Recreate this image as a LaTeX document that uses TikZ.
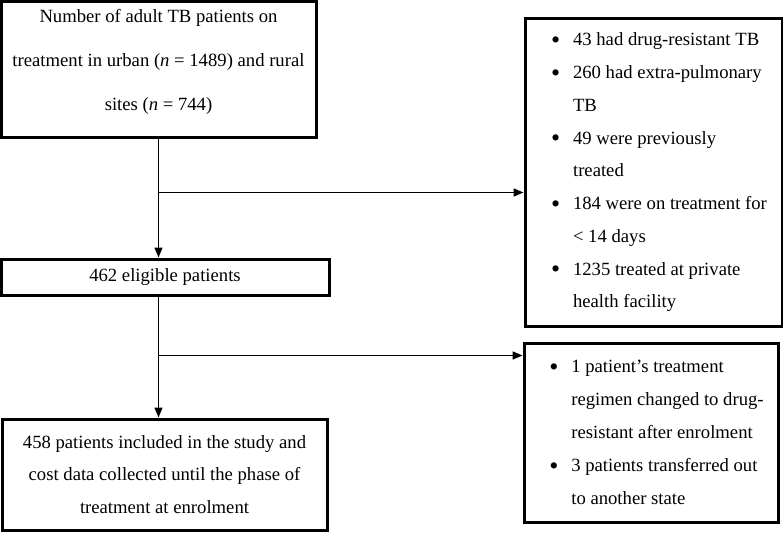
\documentclass[tikz,border=0pt]{standalone}
\usepackage{fontspec}
\setmainfont{Liberation Serif}
\usetikzlibrary{arrows.meta}
\newcommand\bul{\hspace*{11pt}\makebox[22pt][l]{\raisebox{-2.5pt}{\fontsize{26}{26}\selectfont\textbullet}}}
\newcommand\ind{\hspace*{33pt}}
\begin{document}
\begin{tikzpicture}[>={Triangle[length=10pt,width=8pt]},x=1pt,y=-1pt,
	box/.style={draw,line width=3pt,inner sep=0pt,align=center,font=\fontsize{18.67}{32.75}\selectfont},
	link/.style={line width=1.5pt}]
		\useasboundingbox (0,0) rectangle (783,532);
		\node[box,minimum width=315,minimum height=135,font=\fontsize{18.67}{44}\selectfont] (total) at (158.5,69.5)
			{Number of adult TB patients on\\treatment in urban (\textit{n} = 1489) and rural\\sites (\textit{n} = 744)\rule[-20pt]{0pt}{20pt}};
		\node[box,minimum width=328,minimum height=36] (eligible) at (165,277) {462 eligible patients};
		\node[box,minimum width=325,minimum height=111] (included) at (164.5,474.5)
			{458 patients included in the study and\\cost data collected until the phase of\\treatment at enrolment};
		\node[box,align=left,minimum width=257,minimum height=307] (excl1) at (653.5,172.5)
			{\bul 43 had drug-resistant TB\\\bul 260 had extra-pulmonary\\\ind TB\\\bul 49 were previously\\\ind treated\\
			\bul 184 were on treatment for\\\ind < 14 days\\\bul 1235 treated at private\\\ind health facility};
		\node[box,align=left,minimum width=254,minimum height=179,font=\fontsize{18.67}{33}\selectfont] (excl2) at (651,432.5)
			{\bul 1 patient's treatment\\\ind regimen changed to drug-\\\ind resistant after enrolment\\\bul 3 patients transferred out\\\ind to another state};
		\draw[link,->] (total.south) -- (total.south |- eligible.north);
		\path (total.south) ++(0,54) coordinate (b1);
		\draw[link,->] (b1) -- (b1 -| excl1.west);
		\draw[link,->] (total.south |- eligible.south) -- (total.south |- included.north);
		\path (total.south |- eligible.south) ++(0,59) coordinate (b2);
		\draw[link,->] (b2) -- (b2 -| excl2.west);
\end{tikzpicture}
\end{document}
